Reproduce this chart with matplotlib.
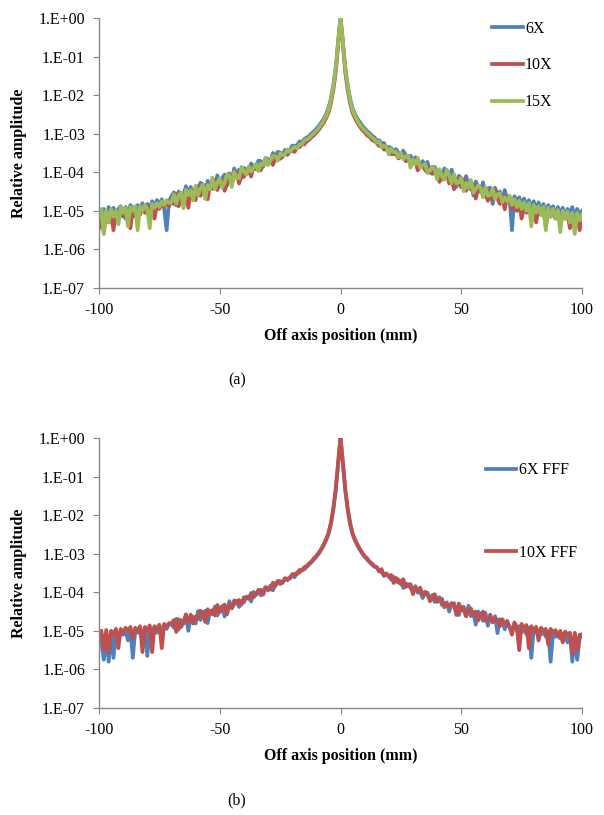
import numpy as np
import matplotlib
matplotlib.use('Agg')
import matplotlib.pyplot as plt
from matplotlib.ticker import FuncFormatter, FixedLocator

plt.rcParams['font.family'] = ['Liberation Serif', 'DejaVu Serif']

# posicoes (mm): caudas de 1 em 1 mm, pico mais fino
x_left = np.arange(-100, -4, 1)
x_mid = [-4, -3, -2, -1.5, -1, -0.5, 0, 0.5, 1, 1.5, 2, 3, 4]
x_right = np.arange(5, 101, 1)
pos_mm = np.concatenate([x_left, x_mid, x_right])

# log10 da amplitude relativa
# (a) feixes com filtro
log_6x = [
    # -100 .. -71
    -4.98, -5.25, -4.95, -5.3, -4.9, -5.1, -4.92, -5.2, -4.95, -4.88, -5.15, -4.9,
    -5.05, -4.85, -4.95, -5.1, -4.85, -4.95, -4.8, -5.0, -4.82, -4.95, -4.75, -4.9,
    -4.72, -4.85, -4.7, -4.95, -5.5, -4.75,
    # -70 .. -15
    -4.62, -4.52, -4.86, -4.5, -4.72, -4.58, -4.36, -4.6, -4.38, -4.64, -4.44, -4.5,
    -4.27, -4.31, -4.58, -4.22, -4.35, -4.23, -4.38, -4.08, -4.29, -4.15, -4.06, -4.34,
    -4.07, -4.19, -3.9, -4.06, -3.93, -4.15, -3.89, -3.92, -3.94, -3.77, -3.91, -3.84,
    -3.7, -3.71, -3.85, -3.63, -3.66, -3.71, -3.5, -3.61, -3.47, -3.49, -3.54, -3.42,
    -3.43, -3.43, -3.31, -3.31, -3.31, -3.2, -3.22, -3.14,
    # -14 .. -5
    -3.1, -3.06, -2.99, -2.94, -2.87, -2.8, -2.71, -2.62, -2.49, -2.34,
    # -4 .. 4
    -2.1, -1.75, -1.3, -0.98, -0.62, -0.3, 0.0, -0.3, -0.62, -0.98, -1.3, -1.75, -2.1,
    # 5 .. 14
    -2.34, -2.49, -2.61, -2.7, -2.79, -2.86, -2.93, -2.98, -3.05, -3.09,
    # 15 .. 70
    -3.18, -3.17, -3.25, -3.24, -3.37, -3.34, -3.37, -3.45, -3.4, -3.5,
    -3.55, -3.44, -3.56, -3.71, -3.57, -3.7, -3.61, -3.69, -3.85, -3.71,
    -3.82, -3.73, -4.01, -3.86, -3.86, -4.02, -3.97, -4.19, -3.9, -4.02,
    -4.19, -3.93, -4.2, -4.38, -4.09, -4.15, -4.36, -4.1, -4.33, -4.23,
    -4.6, -4.24, -4.37, -4.51, -4.26, -4.62, -4.42, -4.4, -4.82, -4.4,
    -4.6, -4.5, -4.78, -4.46, -4.72, -4.62,
    # 71 .. 100
    -5.5, -4.62, -4.8, -4.65, -4.85, -4.68,
    -4.92, -4.72, -4.95, -4.75, -5.0, -4.78, -5.05, -4.82, -5.1, -4.85, -5.0, -4.88,
    -5.15, -4.9, -5.1, -4.92, -5.2, -4.95, -5.1, -4.9, -5.25, -4.95, -5.1, -5.0,
]
log_10x = [
    -5.45, -5.2, -5.55, -5.05, -5.3, -5.1, -5.5, -5.0, -5.25, -5.05, -4.95, -5.2,
    -5.0, -5.45, -4.95, -5.15, -4.95, -5.1, -4.9, -5.05, -4.88, -5.0, -4.85, -5.2,
    -4.82, -4.95, -4.8, -4.9, -4.75, -4.88,
    -4.72, -4.82, -4.56, -4.88, -4.6, -4.7,
    -4.5, -4.92, -4.5, -4.52, -4.72, -4.36, -4.61, -4.47, -4.34, -4.7,
    -4.33, -4.43, -4.2, -4.46, -4.25, -4.19, -4.48, -4.3, -4.03, -4.29,
    -4.12, -4.0, -4.29, -4.07, -4.12, -3.96, -3.96, -4.11, -3.83, -3.92,
    -3.81, -3.95, -3.79, -3.71, -3.8, -3.67, -3.81, -3.66, -3.54, -3.65,
    -3.6, -3.5, -3.55, -3.47, -3.44, -3.47, -3.34, -3.35, -3.27, -3.28,
    -3.2, -3.16, -3.09, -3.04, -2.97, -2.9, -2.81, -2.72, -2.6, -2.46,
    -2.22, -1.88, -1.42, -1.08, -0.7, -0.33, -0.02, -0.33, -0.7, -1.08, -1.42, -1.88, -2.22,
    -2.46, -2.6, -2.72, -2.81, -2.9, -2.96, -3.04, -3.08, -3.16, -3.19,
    -3.24, -3.32, -3.3, -3.41, -3.41, -3.41, -3.53, -3.53, -3.52, -3.64,
    -3.59, -3.57, -3.71, -3.6, -3.81, -3.76, -3.73, -3.95, -3.81, -3.8,
    -3.94, -4.01, -3.87, -4.04, -4.02, -3.99, -4.25, -4.03, -4.16, -4.0,
    -4.29, -4.17, -4.44, -4.16, -4.25, -4.39, -4.18, -4.48, -4.33, -4.45,
    -4.32, -4.68, -4.41, -4.37, -4.6, -4.54, -4.74, -4.48, -4.7, -4.46,
    -4.68, -4.82, -4.6, -4.96, -4.62, -4.72,
    -4.95, -4.76, -5.0, -4.8, -5.2, -4.85,
    -5.05, -4.88, -5.1, -4.92, -5.3, -4.95, -5.1, -4.98, -5.4, -5.0, -5.15, -5.02,
    -5.2, -5.05, -5.35, -5.05, -5.2, -5.08, -5.45, -5.1, -5.3, -5.05, -5.5, -5.2,
]
log_15x = [
    -5.2, -4.95, -5.6, -5.0, -5.3, -4.95, -5.15, -5.0, -5.35, -4.9, -5.05, -4.92,
    -5.4, -4.9, -5.0, -4.88, -5.5, -4.88, -5.0, -4.85, -4.95, -5.45, -4.82, -4.92,
    -4.8, -4.9, -4.75, -4.85, -4.72, -4.8,
    -4.77, -4.57, -4.81, -4.59, -4.53, -4.93,
    -4.45, -4.59, -4.47, -4.73, -4.35, -4.59, -4.42, -4.32, -4.69, -4.33,
    -4.44, -4.14, -4.43, -4.27, -4.16, -4.4, -4.27, -4.05, -4.08, -4.38,
    -3.99, -4.13, -4.16, -3.86, -3.97, -4.06, -3.85, -3.98, -3.88, -3.78,
    -3.97, -3.77, -3.81, -3.63, -3.81, -3.69, -3.58, -3.58, -3.7, -3.51,
    -3.56, -3.52, -3.41, -3.48, -3.39, -3.34, -3.38, -3.28, -3.27, -3.17,
    -3.15, -3.11, -3.04, -2.99, -2.92, -2.85, -2.76, -2.66, -2.54, -2.39,
    -2.14, -1.78, -1.33, -1.0, -0.63, -0.3, 0.0, -0.3, -0.63, -1.0, -1.33, -1.78, -2.14,
    -2.39, -2.54, -2.66, -2.76, -2.84, -2.91, -2.98, -3.03, -3.1, -3.14,
    -3.23, -3.2, -3.35, -3.31, -3.33, -3.54, -3.38, -3.48, -3.47, -3.61,
    -3.5, -3.66, -3.59, -3.57, -3.88, -3.67, -3.8, -3.63, -3.88, -3.82,
    -3.79, -4.0, -3.96, -3.85, -3.92, -4.18, -3.92, -4.1, -4.19, -3.93,
    -4.08, -4.28, -4.05, -4.29, -4.26, -4.14, -4.49, -4.27, -4.4, -4.2,
    -4.53, -4.43, -4.34, -4.4, -4.65, -4.39, -4.61, -4.59, -4.43, -4.69,
    -4.57, -4.55, -4.77, -4.65, -4.75, -4.61,
    -4.85, -4.7, -4.9, -4.74, -4.95, -4.78,
    -5.0, -4.8, -5.4, -4.85, -5.05, -4.88, -5.1, -4.9, -5.5, -4.92, -5.15, -4.95,
    -5.2, -4.98, -5.55, -5.0, -5.2, -5.02, -5.3, -5.05, -5.6, -5.05, -5.25, -5.1,
]
# (b) feixes FFF
log_6x_fff = [
    -5.05, -5.3, -5.75, -5.1, -5.8, -5.05, -5.7, -5.0, -5.2, -4.98, -5.1, -5.0,
    -5.25, -4.95, -5.7, -4.98, -5.05, -4.95, -5.1, -4.92, -5.65, -4.95, -5.0, -4.9,
    -5.05, -4.88, -4.98, -4.85, -4.95, -4.82,
    -4.83, -4.92, -4.69, -4.97, -4.72, -4.81,
    -4.62, -5.0, -4.62, -4.64, -4.81, -4.49, -4.72, -4.59, -4.48, -4.8,
    -4.48, -4.57, -4.37, -4.6, -4.42, -4.36, -4.63, -4.46, -4.23, -4.42,
    -4.31, -4.22, -4.38, -4.23, -4.26, -4.12, -4.11, -4.24, -3.99, -4.07,
    -3.97, -4.08, -3.95, -3.87, -3.95, -3.83, -3.95, -3.81, -3.71, -3.79,
    -3.74, -3.64, -3.69, -3.61, -3.58, -3.61, -3.48, -3.49, -3.41, -3.41,
    -3.34, -3.28, -3.22, -3.15, -3.08, -3.0, -2.9, -2.79, -2.66, -2.5,
    -2.25, -1.88, -1.38, -1.04, -0.68, -0.32, -0.02, -0.32, -0.68, -1.04, -1.38, -1.88, -2.25,
    -2.5, -2.66, -2.79, -2.9, -3.0, -3.08, -3.15, -3.22, -3.28, -3.34,
    -3.35, -3.46, -3.47, -3.57, -3.53, -3.58, -3.67, -3.6, -3.71, -3.75,
    -3.7, -3.89, -3.78, -3.79, -3.89, -3.99, -3.84, -4.01, -3.98, -4.15,
    -3.99, -4.08, -4.17, -4.07, -4.25, -4.17, -4.13, -4.33, -4.32, -4.26,
    -4.5, -4.32, -4.28, -4.48, -4.59, -4.38, -4.47, -4.62, -4.35, -4.62,
    -4.52, -4.84, -4.5, -4.59, -4.74, -4.53, -4.87, -4.64, -4.75, -4.62,
    -5.06, -4.7, -4.76, -4.96, -4.74, -4.92,
    -4.95, -4.85, -5.0, -4.88, -5.05, -4.9,
    -5.1, -4.92, -5.7, -4.95, -5.05, -4.98, -5.1, -5.0, -5.15, -5.02, -5.8, -5.05,
    -5.15, -5.05, -5.2, -5.08, -5.1, -5.3, -5.05, -5.8, -5.1, -5.75, -5.2, -5.1,
]
log_10x_fff = [
    -5.1, -5.0, -5.5, -4.98, -5.55, -5.0, -5.1, -4.95, -5.45, -4.95, -5.05, -4.92,
    -5.0, -4.9, -5.2, -4.92, -5.0, -4.88, -5.55, -4.9, -5.0, -4.86, -5.55, -4.88,
    -4.95, -4.84, -5.45, -4.82, -4.9, -4.8,
    -4.81, -4.72, -5.03, -4.7, -4.9, -4.77,
    -4.57, -4.78, -4.58, -4.81, -4.63, -4.68, -4.48, -4.52, -4.77, -4.44,
    -4.57, -4.46, -4.6, -4.33, -4.52, -4.39, -4.32, -4.57, -4.33, -4.4,
    -4.21, -4.29, -4.2, -4.32, -4.13, -4.15, -4.17, -4.02, -4.13, -4.06,
    -3.94, -3.94, -4.06, -3.87, -3.89, -3.93, -3.75, -3.84, -3.71, -3.71,
    -3.76, -3.64, -3.65, -3.65, -3.53, -3.53, -3.53, -3.42, -3.44, -3.35,
    -3.32, -3.25, -3.2, -3.12, -3.06, -2.97, -2.88, -2.76, -2.63, -2.47,
    -2.2, -1.83, -1.33, -1.0, -0.65, -0.3, 0.0, -0.3, -0.65, -1.0, -1.33, -1.83, -2.2,
    -2.47, -2.63, -2.76, -2.88, -2.97, -3.06, -3.12, -3.2, -3.25, -3.32,
    -3.35, -3.45, -3.4, -3.57, -3.51, -3.6, -3.55, -3.76, -3.63, -3.68,
    -3.79, -3.66, -3.86, -3.82, -3.79, -4.05, -3.87, -3.97, -3.88, -4.08,
    -4.0, -4.01, -4.23, -4.17, -4.05, -4.25, -4.2, -4.17, -4.39, -4.3,
    -4.39, -4.28, -4.34, -4.59, -4.29, -4.47, -4.38, -4.62, -4.47, -4.42,
    -4.6, -4.5, -4.73, -4.59, -4.5, -4.74, -4.71, -4.58, -4.78, -4.68,
    -4.71, -4.88, -4.7, -4.83, -4.76, -4.9,
    -5.1, -4.78, -4.9, -5.5, -4.82, -4.95,
    -4.85, -5.45, -4.88, -5.0, -4.9, -5.25, -4.92, -5.0, -4.95, -5.35, -4.95, -5.05,
    -4.98, -5.15, -5.0, -5.3, -5.02, -5.1, -5.05, -5.6, -5.05, -5.5, -5.1, -5.1,
]

series_a = [('6X', log_6x, '#4F81BD'), ('10X', log_10x, '#C0504D'), ('15X', log_15x, '#9BBB59')]
series_b = [('6X FFF', log_6x_fff, '#4F81BD'), ('10X FFF', log_10x_fff, '#C0504D')]

y_ticks = [1e-7, 1e-6, 1e-5, 1e-4, 1e-3, 1e-2, 1e-1, 1e0]
x_ticks = [-100, -50, 0, 50, 100]

FS = 11.5
GRAY = '#868686'


def fmt_excel(v, pos):
    return f"1.E{int(round(np.log10(v))):+03d}"


def montar_eixo(ax, series, leg_anchor, spacing):
    for nome, vals, cor in series:
        assert len(vals) == len(pos_mm), (nome, len(vals))
        ax.plot(pos_mm, 10.0 ** np.array(vals), color=cor, lw=2.7, label=nome,
                solid_joinstyle='round')
    ax.set_yscale('log')
    ax.set_ylim(1e-7, 1)
    ax.set_xlim(-100, 100)
    ax.yaxis.set_major_locator(FixedLocator(y_ticks))
    ax.yaxis.set_major_formatter(FuncFormatter(fmt_excel))
    ax.yaxis.set_minor_locator(FixedLocator([]))
    ax.set_xticks(x_ticks)
    ax.set_xticklabels([str(t) for t in x_ticks])
    for s in ['top', 'right']:
        ax.spines[s].set_visible(False)
    for s in ['left', 'bottom']:
        ax.spines[s].set_color(GRAY)
        ax.spines[s].set_linewidth(1.0)
    ax.tick_params(direction='out', length=4, color=GRAY, labelsize=FS, pad=6)
    ax.set_xlabel('Off axis position (mm)', fontsize=FS, fontweight='bold', labelpad=7)
    ax.set_ylabel('Relative amplitude', fontsize=FS, fontweight='bold', labelpad=8)
    ax.legend(loc='upper left', bbox_to_anchor=leg_anchor, frameon=False,
              fontsize=FS, handlelength=1.9, handletextpad=0.15,
              labelspacing=spacing, borderpad=0, borderaxespad=0)


fig = plt.figure(figsize=(6.04, 8.15), dpi=100)
ax_a = fig.add_axes([0.1639, 0.6466, 0.7997, 0.3313])
ax_b = fig.add_axes([0.1639, 0.1313, 0.7997, 0.3313])

montar_eixo(ax_a, series_a, (0.814, 0.99), 1.3)
montar_eixo(ax_b, series_b, (0.801, 0.91), 4.15)

fig.text(0.392, 1 - 380 / 815, '(a)', fontsize=FS, ha='center', va='center')
fig.text(0.392, 1 - 800 / 815, '(b)', fontsize=FS, ha='center', va='center')

fig.savefig('out.png', dpi=100)
